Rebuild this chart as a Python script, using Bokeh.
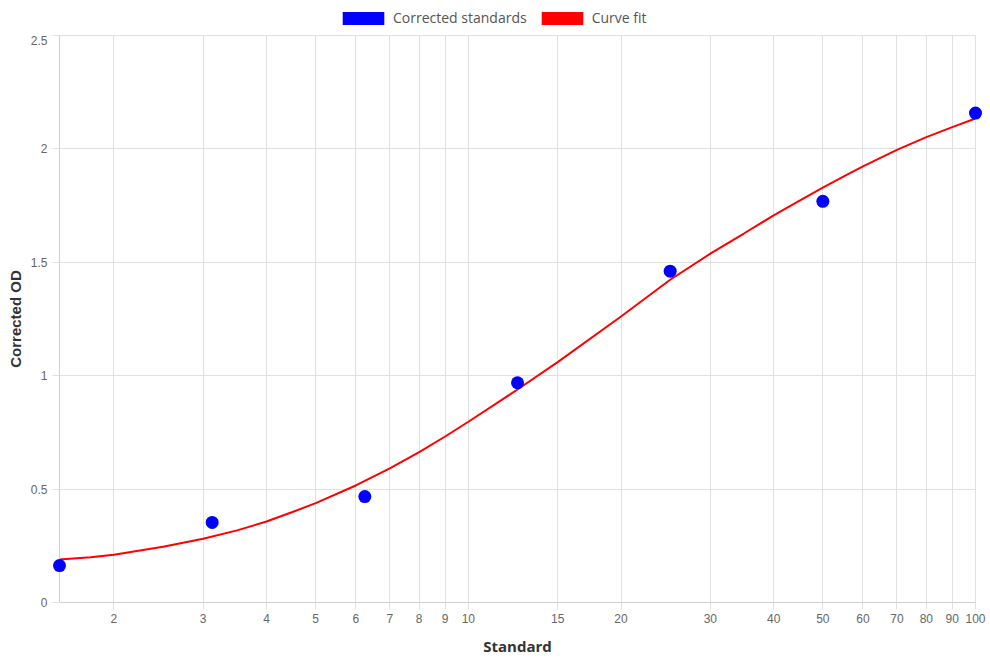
from bokeh.plotting import figure
from bokeh.layouts import column
from bokeh.models import (FixedTicker, CustomJSTickFormatter, Legend, LegendItem,
                          ColumnDataSource)
from bokeh.embed import file_html
from bokeh.resources import INLINE

# ---- data ----
std_x = [1.5625, 3.125, 6.25, 12.5, 25, 50, 100]
std_od = [0.163, 0.353, 0.467, 0.969, 1.461, 1.769, 2.158]

fit_x = [1.5625, 1.8, 2, 2.5, 3, 3.5, 4, 4.5, 5, 6, 7, 8, 9, 10, 12.5, 15,
         20, 25, 30, 35, 40, 45, 50, 55, 60, 70, 80, 90, 100]
fit_od = [0.190, 0.200, 0.211, 0.246, 0.281, 0.318, 0.357, 0.399, 0.438, 0.516,
          0.591, 0.663, 0.732, 0.797, 0.939, 1.060, 1.261, 1.423, 1.538, 1.628,
          1.707, 1.772, 1.829, 1.879, 1.923, 1.996, 2.052, 2.096, 2.134]

x_ticks = [2, 3, 4, 5, 6, 7, 8, 9, 10, 15, 20, 30, 40, 50, 60, 70, 80, 90, 100]
y_ticks = [0, 0.5, 1, 1.5, 2, 2.5]

series_names = ["Corrected standards", "Curve fit"]
series_colors = ["#0000ff", "#ff0000"]

TICK_FONT = "Liberation Sans"
TITLE_FONT = "Open Sans"
GRID = "#e1e1e1"

# ---- legend strip on top ----
lg = figure(width=990, height=35, x_range=(0, 1), y_range=(0, 1),
            x_axis_location=None, y_axis_location=None,
            output_backend="svg", toolbar_location=None, min_border=0,
            background_fill_color="white", border_fill_color="white")
lg.grid.visible = False
lg.outline_line_color = None
src_a = ColumnDataSource(dict(l=[0], r=[0], b=[0], t=[0]))
src_b = ColumnDataSource(dict(l=[0], r=[0], b=[0], t=[0]))
rb = lg.quad(left="l", right="r", bottom="b", top="t", source=src_a,
             fill_color=series_colors[0], line_color=None)
rr = lg.quad(left="l", right="r", bottom="b", top="t", source=src_b,
             fill_color=series_colors[1], line_color=None)
legend = Legend(items=[LegendItem(label=series_names[0], renderers=[rb]),
                       LegendItem(label=series_names[1], renderers=[rr])],
                orientation="horizontal", location=(278, 8),
                glyph_width=52, glyph_height=16, label_height=14,
                label_standoff=4, spacing=9, padding=4, margin=0,
                border_line_color=None, background_fill_alpha=0,
                label_text_font=TITLE_FONT, label_text_font_size="14px",
                label_text_color="#555555")
lg.add_layout(legend, "center")

# ---- main chart ----
p = figure(width=990, height=625, x_axis_type="log",
           x_range=(std_x[0], std_x[-1]), y_range=(y_ticks[0], y_ticks[-1]),
           output_backend="svg", toolbar_location=None,
           min_border_left=59, min_border_right=15,
           min_border_top=0, min_border_bottom=58,
           background_fill_color="white", border_fill_color="white")

p.outline_line_color = GRID

p.line(fit_x, fit_od, line_color=series_colors[1], line_width=2)
p.scatter(std_x, std_od, size=13, fill_color=series_colors[0],
          line_color=series_colors[0], line_width=0, level="overlay")

p.xaxis.ticker = FixedTicker(ticks=x_ticks)
p.yaxis.ticker = FixedTicker(ticks=y_ticks)
p.xgrid.ticker = FixedTicker(ticks=x_ticks)
p.ygrid.ticker = FixedTicker(ticks=y_ticks)
p.xaxis.formatter = CustomJSTickFormatter(code="return String(Math.round(tick*100)/100);")
p.yaxis.formatter = CustomJSTickFormatter(code="return String(Math.round(tick*100)/100);")

for ax in (p.xaxis[0], p.yaxis[0]):
    ax.minor_tick_line_color = None
    ax.major_tick_in = 0
    ax.major_tick_out = 7
    ax.major_tick_line_color = GRID
    ax.axis_line_color = "#cfcfcf"
    ax.major_label_text_font = TICK_FONT
    ax.major_label_text_font_size = "12px"
    ax.major_label_text_color = "#666666"
    ax.axis_label_text_font_style = "bold"
    ax.axis_label_text_color = "#333333"

p.xaxis.axis_label = "Standard"
p.yaxis.axis_label = "Corrected OD"
p.xaxis.axis_label_text_font = TITLE_FONT
p.xaxis.axis_label_text_font_size = "15px"
p.yaxis.axis_label_text_font = TICK_FONT
p.yaxis.axis_label_text_font_size = "15px"
p.xaxis.major_label_standoff = 4
p.yaxis.major_label_standoff = 5
p.xaxis.axis_label_standoff = 10
p.yaxis.axis_label_standoff = 4

p.xgrid.grid_line_color = GRID
p.ygrid.grid_line_color = GRID

layout = column(lg, p, spacing=0)
open("out.html", "w").write(file_html(layout, INLINE))
